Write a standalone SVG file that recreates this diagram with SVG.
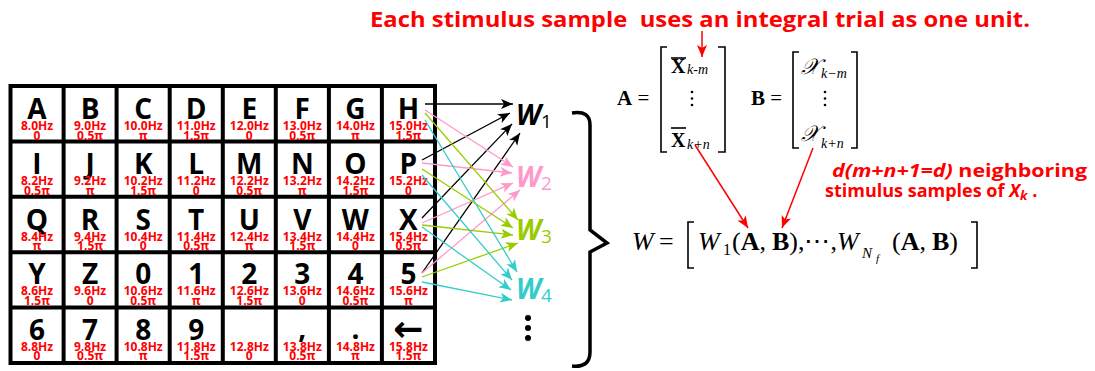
<svg xmlns="http://www.w3.org/2000/svg" width="1095" height="371" viewBox="0 0 1095 371">
<style>
.lt{font-family:"Open Sans","Noto Sans",sans-serif;font-weight:bold;font-size:28px;fill:#000;text-anchor:middle}
.fq{font-family:"Open Sans","Noto Sans",sans-serif;font-weight:bold;font-size:12px;fill:#FF0000;text-anchor:middle}
.red{font-family:"Open Sans","Noto Sans",sans-serif;font-weight:bold;fill:#FF0000}
.wl{font-family:"Open Sans","Noto Sans",sans-serif;font-weight:bold;font-style:italic;font-size:28px}
.ws{font-family:"Open Sans","Noto Sans",sans-serif;font-weight:normal;font-style:normal;font-size:19px}
.m{font-family:"Liberation Serif","Times New Roman",serif;fill:#000}
.b{font-weight:bold}
.i{font-style:italic}
.br{fill:none;stroke:#000;stroke-width:1.6}
.c{fill:none;stroke-width:1.3}
</style>
<defs>
<marker id="ak" markerUnits="userSpaceOnUse" markerWidth="13" markerHeight="11" refX="12" refY="5" orient="auto"><path d="M0,0 L12,5 L0,10 L3,5 z" fill="#000"/></marker>
<marker id="ap" markerUnits="userSpaceOnUse" markerWidth="13" markerHeight="11" refX="12" refY="5" orient="auto"><path d="M0,0 L12,5 L0,10 L3,5 z" fill="#FF99CC"/></marker>
<marker id="ag" markerUnits="userSpaceOnUse" markerWidth="13" markerHeight="11" refX="12" refY="5" orient="auto"><path d="M0,0 L12,5 L0,10 L3,5 z" fill="#99CC00"/></marker>
<marker id="ac" markerUnits="userSpaceOnUse" markerWidth="13" markerHeight="11" refX="12" refY="5" orient="auto"><path d="M0,0 L12,5 L0,10 L3,5 z" fill="#33CCCC"/></marker>
<marker id="ar" markerUnits="userSpaceOnUse" markerWidth="13" markerHeight="11" refX="12" refY="5" orient="auto"><path d="M0,0 L12,5 L0,10 L3,5 z" fill="#FF0000"/></marker>
</defs>
<rect width="1095" height="371" fill="#fff"/>

<!-- top caption -->
<text id="caption" class="red" x="370" y="27" font-size="21" textLength="660" lengthAdjust="spacingAndGlyphs" style="white-space:pre">Each stimulus sample  uses an integral trial as one unit.</text>

<!-- keyboard grid -->
<g id="grid">
<rect x="10.5" y="86" width="424.5" height="277" fill="#fff" stroke="#000" stroke-width="4"/>
<path d="M63.6,86V363M116.6,86V363M169.7,86V363M222.8,86V363M275.8,86V363M328.9,86V363M381.9,86V363M10.5,141.4H435M10.5,196.8H435M10.5,252.2H435M10.5,307.6H435" stroke="#000" stroke-width="4" fill="none"/>
</g>

<g id="cell-A" transform="translate(37,86)"><text class="lt" y="33">A</text><text class="fq" y="44">8.0Hz</text><text class="fq" y="53.5">0</text></g>
<g id="cell-B" transform="translate(90.1,86)"><text class="lt" y="33">B</text><text class="fq" y="44">9.0Hz</text><text class="fq" y="53.5">0.5π</text></g>
<g id="cell-C" transform="translate(143.2,86)"><text class="lt" y="33">C</text><text class="fq" y="44">10.0Hz</text><text class="fq" y="53.5">π</text></g>
<g id="cell-D" transform="translate(196.2,86)"><text class="lt" y="33">D</text><text class="fq" y="44">11.0Hz</text><text class="fq" y="53.5">1.5π</text></g>
<g id="cell-E" transform="translate(249.3,86)"><text class="lt" y="33">E</text><text class="fq" y="44">12.0Hz</text><text class="fq" y="53.5">0</text></g>
<g id="cell-F" transform="translate(302.3,86)"><text class="lt" y="33">F</text><text class="fq" y="44">13.0Hz</text><text class="fq" y="53.5">0.5π</text></g>
<g id="cell-G" transform="translate(355.4,86)"><text class="lt" y="33">G</text><text class="fq" y="44">14.0Hz</text><text class="fq" y="53.5">π</text></g>
<g id="cell-H" transform="translate(408.4,86)"><text class="lt" y="33">H</text><text class="fq" y="44">15.0Hz</text><text class="fq" y="53.5">1.5π</text></g>

<g id="cell-I" transform="translate(37,141.4)"><text class="lt" y="33">I</text><text class="fq" y="44">8.2Hz</text><text class="fq" y="53.5">0.5π</text></g>
<g id="cell-J" transform="translate(90.1,141.4)"><text class="lt" y="33">J</text><text class="fq" y="44">9.2Hz</text><text class="fq" y="53.5">π</text></g>
<g id="cell-K" transform="translate(143.2,141.4)"><text class="lt" y="33">K</text><text class="fq" y="44">10.2Hz</text><text class="fq" y="53.5">1.5π</text></g>
<g id="cell-L" transform="translate(196.2,141.4)"><text class="lt" y="33">L</text><text class="fq" y="44">11.2Hz</text><text class="fq" y="53.5">0</text></g>
<g id="cell-M" transform="translate(249.3,141.4)"><text class="lt" y="33">M</text><text class="fq" y="44">12.2Hz</text><text class="fq" y="53.5">0.5π</text></g>
<g id="cell-N" transform="translate(302.3,141.4)"><text class="lt" y="33">N</text><text class="fq" y="44">13.2Hz</text><text class="fq" y="53.5">π</text></g>
<g id="cell-O" transform="translate(355.4,141.4)"><text class="lt" y="33">O</text><text class="fq" y="44">14.2Hz</text><text class="fq" y="53.5">1.5π</text></g>
<g id="cell-P" transform="translate(408.4,141.4)"><text class="lt" y="33">P</text><text class="fq" y="44">15.2Hz</text><text class="fq" y="53.5">0</text></g>

<g id="cell-Q" transform="translate(37,196.8)"><text class="lt" y="33">Q</text><text class="fq" y="44">8.4Hz</text><text class="fq" y="53.5">π</text></g>
<g id="cell-R" transform="translate(90.1,196.8)"><text class="lt" y="33">R</text><text class="fq" y="44">9.4Hz</text><text class="fq" y="53.5">1.5π</text></g>
<g id="cell-S" transform="translate(143.2,196.8)"><text class="lt" y="33">S</text><text class="fq" y="44">10.4Hz</text><text class="fq" y="53.5">0</text></g>
<g id="cell-T" transform="translate(196.2,196.8)"><text class="lt" y="33">T</text><text class="fq" y="44">11.4Hz</text><text class="fq" y="53.5">0.5π</text></g>
<g id="cell-U" transform="translate(249.3,196.8)"><text class="lt" y="33">U</text><text class="fq" y="44">12.4Hz</text><text class="fq" y="53.5">π</text></g>
<g id="cell-V" transform="translate(302.3,196.8)"><text class="lt" y="33">V</text><text class="fq" y="44">13.4Hz</text><text class="fq" y="53.5">1.5π</text></g>
<g id="cell-W" transform="translate(355.4,196.8)"><text class="lt" y="33">W</text><text class="fq" y="44">14.4Hz</text><text class="fq" y="53.5">0</text></g>
<g id="cell-X" transform="translate(408.4,196.8)"><text class="lt" y="33">X</text><text class="fq" y="44">15.4Hz</text><text class="fq" y="53.5">0.5π</text></g>

<g id="cell-Y" transform="translate(37,252.2)"><text class="lt" y="32">Y</text><text class="fq" y="43">8.6Hz</text><text class="fq" y="52.5">1.5π</text></g>
<g id="cell-Z" transform="translate(90.1,252.2)"><text class="lt" y="32">Z</text><text class="fq" y="43">9.6Hz</text><text class="fq" y="52.5">0</text></g>
<g id="cell-0" transform="translate(143.2,252.2)"><text class="lt" y="32">0</text><text class="fq" y="43">10.6Hz</text><text class="fq" y="52.5">0.5π</text></g>
<g id="cell-1" transform="translate(196.2,252.2)"><text class="lt" y="32">1</text><text class="fq" y="43">11.6Hz</text><text class="fq" y="52.5">π</text></g>
<g id="cell-2" transform="translate(249.3,252.2)"><text class="lt" y="32">2</text><text class="fq" y="43">12.6Hz</text><text class="fq" y="52.5">1.5π</text></g>
<g id="cell-3" transform="translate(302.3,252.2)"><text class="lt" y="32">3</text><text class="fq" y="43">13.6Hz</text><text class="fq" y="52.5">0</text></g>
<g id="cell-4" transform="translate(355.4,252.2)"><text class="lt" y="32">4</text><text class="fq" y="43">14.6Hz</text><text class="fq" y="52.5">0.5π</text></g>
<g id="cell-5" transform="translate(408.4,252.2)"><text class="lt" y="32">5</text><text class="fq" y="43">15.6Hz</text><text class="fq" y="52.5">π</text></g>

<g id="cell-6" transform="translate(37,307.6)"><text class="lt" y="32">6</text><text class="fq" y="43">8.8Hz</text><text class="fq" y="52.5">0</text></g>
<g id="cell-7" transform="translate(90.1,307.6)"><text class="lt" y="32">7</text><text class="fq" y="43">9.8Hz</text><text class="fq" y="52.5">0.5π</text></g>
<g id="cell-8" transform="translate(143.2,307.6)"><text class="lt" y="32">8</text><text class="fq" y="43">10.8Hz</text><text class="fq" y="52.5">π</text></g>
<g id="cell-9" transform="translate(196.2,307.6)"><text class="lt" y="32">9</text><text class="fq" y="43">11.8Hz</text><text class="fq" y="52.5">1.5π</text></g>
<g id="cell-space" transform="translate(249.3,307.6)"><text class="fq" y="43">12.8Hz</text><text class="fq" y="52.5">0</text></g>
<g id="cell-comma" transform="translate(302.3,307.6)"><text class="lt" y="30">,</text><text class="fq" y="43">13.8Hz</text><text class="fq" y="52.5">0.5π</text></g>
<g id="cell-period" transform="translate(355.4,307.6)"><text class="lt" y="31">.</text><text class="fq" y="43">14.8Hz</text><text class="fq" y="52.5">π</text></g>
<g id="cell-back" transform="translate(408.4,307.6)"><text class="lt" y="33" style="font-family:'DejaVu Sans',sans-serif;font-size:36px">←</text><text class="fq" y="43">15.8Hz</text><text class="fq" y="52.5">1.5π</text></g>

<!-- connectors -->
<g id="connectors">
<g stroke="#000" class="c" marker-end="url(#ak)">
<line x1="425" y1="104" x2="513" y2="104"/>
<line x1="422" y1="160" x2="510" y2="113"/>
<line x1="422" y1="218" x2="512" y2="124"/>
<line x1="422" y1="273" x2="520" y2="133"/>
</g>
<g stroke="#FF99CC" class="c" marker-end="url(#ap)">
<line x1="425" y1="110" x2="513" y2="167"/>
<line x1="422" y1="163" x2="512" y2="173"/>
<line x1="422" y1="223" x2="513" y2="183"/>
<line x1="422" y1="273" x2="520" y2="190"/>
</g>
<g stroke="#99CC00" class="c" marker-end="url(#ag)">
<line x1="425" y1="113" x2="518" y2="220"/>
<line x1="422" y1="169" x2="513" y2="228"/>
<line x1="422" y1="225" x2="513" y2="235"/>
<line x1="422" y1="277" x2="518" y2="243"/>
</g>
<g stroke="#33CCCC" class="c" marker-end="url(#ac)">
<line x1="425" y1="120" x2="517" y2="272"/>
<line x1="422" y1="175" x2="512" y2="280"/>
<line x1="422" y1="227" x2="511" y2="290"/>
<line x1="422" y1="282" x2="512" y2="300"/>
</g>
<g stroke="#FF0000" stroke-width="1.5" fill="none" marker-end="url(#ar)">
<line x1="702" y1="31" x2="702" y2="57"/>
<line x1="695" y1="145" x2="748" y2="228"/>
<line x1="813" y1="148" x2="782" y2="228"/>
</g>
</g>

<!-- W labels -->
<g id="W1"><text class="wl" x="516" y="125" fill="#000">W<tspan class="ws" dy="3">1</tspan></text></g>
<g id="W2"><text class="wl" x="516" y="187" fill="#FF99CC">W<tspan class="ws" dy="3">2</tspan></text></g>
<g id="W3"><text class="wl" x="516" y="240" fill="#99CC00">W<tspan class="ws" dy="3">3</tspan></text></g>
<g id="W4"><text class="wl" x="516" y="299" fill="#33CCCC">W<tspan class="ws" dy="3">4</tspan></text></g>
<g id="vdots" fill="#000"><circle cx="528" cy="318" r="3"/><circle cx="528" cy="328" r="3"/><circle cx="528" cy="338" r="3"/></g>

<!-- brace -->
<path id="brace" d="M572,113 Q590,110 590,125 L590,230 L607,243 L590,252 L590,352 Q590,368 572,366" fill="none" stroke="#000" stroke-width="3.5" stroke-linejoin="miter"/>

<!-- matrix A -->
<g id="matrixA">
<text class="m" x="617" y="105" font-size="21"><tspan class="b">A</tspan> =</text>
<path class="br" d="M667,47H661V152H667M718,47H725V152H718"/>
<text class="m b" x="671" y="73" font-size="20">X</text><line x1="671" y1="58" x2="686" y2="58" stroke="#000" stroke-width="1.6"/>
<text class="m i" x="687" y="74" font-size="14">k-m</text>
<g fill="#000"><circle cx="692" cy="92" r="1.3"/><circle cx="692" cy="98.5" r="1.3"/><circle cx="692" cy="105" r="1.3"/></g>
<text class="m b" x="671" y="147" font-size="20">X</text><line x1="671" y1="128" x2="686" y2="128" stroke="#000" stroke-width="1.6"/>
<text class="m i" x="687" y="149" font-size="14">k+n</text>
</g>

<!-- matrix B -->
<g id="matrixB">
<text class="m" x="751" y="105" font-size="21"><tspan class="b">B</tspan> =</text>
<path class="br" d="M799,52H793V148H799M851,52H857V148H851"/>
<text class="m i" x="801" y="74" font-size="22">𝒳</text>
<text class="m i" x="821" y="78" font-size="14">k−m</text>
<g fill="#000"><circle cx="825" cy="92" r="1.3"/><circle cx="825" cy="98.5" r="1.3"/><circle cx="825" cy="105" r="1.3"/></g>
<text class="m i" x="801" y="141" font-size="22">𝒳</text>
<text class="m i" x="821" y="148" font-size="14">k+n</text>
</g>

<!-- red annotation -->
<g id="note">
<text class="red" x="832" y="177" font-size="18" textLength="255" lengthAdjust="spacingAndGlyphs"><tspan font-style="italic">d(m+n+1=d)</tspan> neighboring</text>
<text class="red" x="825" y="197" font-size="18" style="white-space:pre">stimulus samples of <tspan font-style="italic">X</tspan><tspan font-style="italic" font-size="13" dy="3">k</tspan><tspan dy="-3"> .</tspan></text>
</g>

<!-- W equation -->
<g id="equation" class="m" font-size="26">
<text x="632" y="250" class="i">W</text>
<text x="659" y="250">=</text>
<path class="br" d="M694,222H688V268H694M971,222H977V268H971"/>
<text x="698" y="250" class="i">W</text>
<text x="723" y="255" font-size="16">1</text>
<text x="732" y="250">(<tspan class="b">A</tspan>,<tspan class="b" dx="6">B</tspan>),⋯,</text>
<text x="837" y="250" class="i">W</text>
<text x="862" y="258" class="i" font-size="15">N</text>
<text x="876" y="262" class="i" font-size="11">f</text>
<text x="892" y="250">(<tspan class="b">A</tspan>,<tspan class="b" dx="6">B</tspan>)</text>
</g>
</svg>
